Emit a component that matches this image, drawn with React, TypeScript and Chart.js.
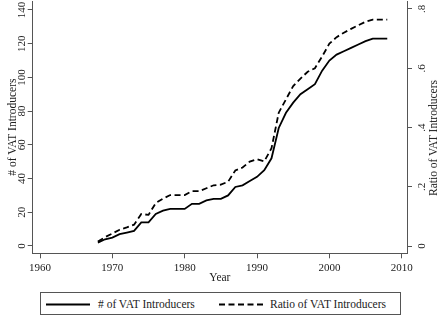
import React, { useEffect, useRef } from "react";
import { Chart, registerables } from "chart.js";

Chart.register(...registerables);

// ---- Data ----
const years = [
  1968, 1969, 1970, 1971, 1972, 1973, 1974, 1975, 1976, 1977,
  1978, 1979, 1980, 1981, 1982, 1983, 1984, 1985, 1986, 1987,
  1988, 1989, 1990, 1991, 1992, 1993, 1994, 1995, 1996, 1997,
  1998, 1999, 2000, 2001, 2002, 2003, 2004, 2005, 2006, 2007, 2008,
];
const vatCount = [
  2, 4, 5, 7, 8, 9, 14, 14, 19, 21,
  22, 22, 22, 25, 25, 27, 28, 28, 30, 35,
  36, 38.5, 41, 45, 52, 70, 79, 85, 90, 93,
  96, 104, 110, 113.5, 115.5, 117.5, 119.5, 121.5, 123, 123, 123,
];
const vatRatio = [
  0.015, 0.03, 0.042, 0.055, 0.063, 0.072, 0.108, 0.105, 0.145, 0.16,
  0.172, 0.172, 0.172, 0.185, 0.185, 0.195, 0.205, 0.207, 0.217, 0.255,
  0.265, 0.285, 0.293, 0.286, 0.33, 0.45, 0.495, 0.54, 0.565, 0.588,
  0.6, 0.64, 0.683, 0.705, 0.72, 0.733, 0.745, 0.757, 0.764, 0.764, 0.764,
];
const xTicks = [1960, 1970, 1980, 1990, 2000, 2010];
const leftTicks = [0, 20, 40, 60, 80, 100, 120, 140];
const rightTicks = [0, 0.2, 0.4, 0.6, 0.8];
const seriesLabels = ["# of VAT Introducers", "Ratio of VAT Introducers"];
const xTitle = "Year";

const FONT = "'Liberation Serif', 'Times New Roman', serif";
const AXIS = "#555";
const TEXT = "#222";
const W = 440;
const H = 290;

export default function App() {
  const ref = useRef<HTMLCanvasElement>(null);

  useEffect(() => {
    const canvas = ref.current;
    if (!canvas) return;
    const tickFont = { family: FONT, size: 11 };
    const titleFont = { family: FONT, size: 11.5 };
    const noPad = (s: any) => {
      s.paddingTop = 0;
      s.paddingBottom = 0;
    };
    const chart = new Chart(canvas, {
      type: "line",
      data: {
        datasets: [
          {
            label: seriesLabels[0],
            data: years.map((yr, i) => ({ x: yr, y: vatCount[i] })),
            yAxisID: "y",
            borderColor: "#000",
            borderWidth: 1.8,
            pointRadius: 0,
            tension: 0,
            fill: false,
          },
          {
            label: seriesLabels[1],
            data: years.map((yr, i) => ({ x: yr, y: vatRatio[i] })),
            yAxisID: "y2",
            borderColor: "#000",
            borderWidth: 1.8,
            borderDash: [6, 3.5],
            pointRadius: 0,
            tension: 0,
            fill: false,
          },
        ],
      },
      options: {
        animation: false,
        responsive: false,
        maintainAspectRatio: false,
        layout: { padding: { top: 1, left: 0, right: 0, bottom: 0 } },
        plugins: { legend: { display: false }, tooltip: { enabled: false } },
        scales: {
          x: {
            type: "linear",
            position: "bottom",
            min: 1958.99,
            max: 2010.73,
            afterBuildTicks: (s: any) => {
              s.ticks = xTicks.map((v) => ({ value: v }));
            },
            afterFit: (s: any) => {
              s.height = H - 253.3;
            },
            grid: {
              display: true,
              drawOnChartArea: false,
              drawTicks: true,
              tickLength: 5,
              color: AXIS,
              lineWidth: 1,
            },
            border: { display: true, color: AXIS, width: 1 },
            ticks: {
              font: tickFont,
              color: TEXT,
              padding: 3,
              maxRotation: 0,
              autoSkip: false,
              callback: (v: any) => String(v),
            },
            title: {
              display: true,
              text: xTitle,
              font: titleFont,
              color: TEXT,
              padding: { top: 0, bottom: 5.1 },
            },
          },
          y: {
            type: "linear",
            position: "left",
            min: -4.33,
            max: 145.3,
            afterBuildTicks: (s: any) => {
              s.ticks = leftTicks.map((v) => ({ value: v }));
            },
            afterFit: (s: any) => {
              s.width = 32.7;
              noPad(s);
            },
            grid: {
              display: true,
              drawOnChartArea: false,
              drawTicks: true,
              tickLength: 5,
              color: AXIS,
              lineWidth: 1,
            },
            border: { display: true, color: AXIS, width: 1 },
            ticks: {
              font: tickFont,
              color: TEXT,
              minRotation: 90,
              maxRotation: 90,
              crossAlign: "center",
              padding: -2.25,
              autoSkip: false,
              callback: (v: any) => String(v),
            },
            title: {
              display: true,
              text: seriesLabels[0],
              font: titleFont,
              color: TEXT,
              padding: { top: 5.6, bottom: 0 },
            },
          },
          y2: {
            type: "linear",
            position: "right",
            min: -0.0246,
            max: 0.827,
            afterBuildTicks: (s: any) => {
              s.ticks = rightTicks.map((v) => ({ value: v }));
            },
            afterFit: (s: any) => {
              s.width = 33;
              noPad(s);
            },
            grid: {
              display: true,
              drawOnChartArea: false,
              drawTicks: true,
              tickLength: 5,
              color: AXIS,
              lineWidth: 1,
            },
            border: { display: true, color: AXIS, width: 1 },
            ticks: {
              font: tickFont,
              color: TEXT,
              minRotation: 90,
              maxRotation: 90,
              crossAlign: "center",
              padding: 5.6,
              autoSkip: false,
              callback: (v: any) => {
                const n = Number(v);
                if (n === 0) return "0";
                return n.toFixed(1).replace(/^0\./, ".");
              },
            },
            title: { display: false },
          },
        },
      },
    });
    return () => chart.destroy();
  }, []);

  const textStyle: React.CSSProperties = {
    position: "absolute",
    fontFamily: FONT,
    fontSize: 11.5,
    color: TEXT,
    whiteSpace: "nowrap",
    lineHeight: "14px",
  };

  return (
    <div
      style={{
        position: "fixed",
        left: 0,
        top: 0,
        width: W,
        height: 317,
        background: "#fff",
        overflow: "hidden",
      }}
    >
      <canvas ref={ref} width={W} height={H} style={{ position: "absolute", left: 0, top: 0 }} />
      <div
        style={{
          ...textStyle,
          left: 433,
          top: 138,
          transform: "translate(-50%, -50%) rotate(-90deg)",
        }}
      >
        {seriesLabels[1]}
      </div>
      <div
        style={{
          position: "absolute",
          left: 40,
          top: 292,
          width: 361,
          height: 23,
          boxSizing: "border-box",
          border: `1px solid ${AXIS}`,
        }}
      >
        <svg
          width={361}
          height={21}
          style={{ position: "absolute", left: 0, top: 0 }}
        >
          <line x1={5} x2={49} y1={11.5} y2={11.5} stroke="#000" strokeWidth={1.8} />
          <line
            x1={178}
            x2={224}
            y1={11.5}
            y2={11.5}
            stroke="#000"
            strokeWidth={1.8}
            strokeDasharray="6 3.5"
          />
        </svg>
        <div style={{ ...textStyle, left: 57, top: 4 }}>{seriesLabels[0]}</div>
        <div style={{ ...textStyle, left: 229, top: 4 }}>{seriesLabels[1]}</div>
      </div>
    </div>
  );
}
